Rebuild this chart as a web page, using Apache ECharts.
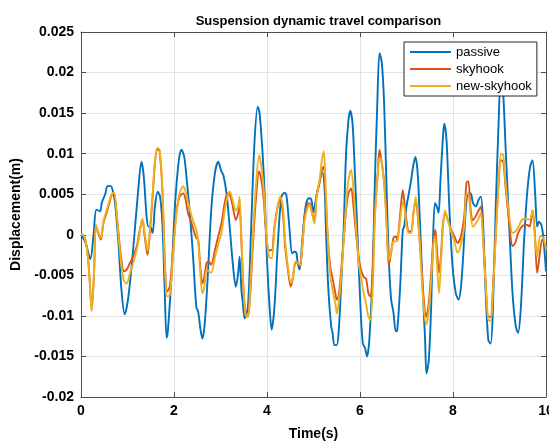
<!DOCTYPE html>
<html>
<head>
<meta charset="utf-8">
<script src="https://cdn.jsdelivr.net/npm/echarts@6/dist/echarts.min.js"></script>
<style>
html,body{margin:0;padding:0;background:#fff;}
#chart{width:549px;height:443px;}
</style>
</head>
<body>
<div id="chart"></div>
<script>
const xTicks = [0, 2, 4, 6, 8, 10];
const yTicks = [-0.02, -0.015, -0.01, -0.005, 0, 0.005, 0.01, 0.015, 0.02, 0.025];
const seriesNames = ['passive', 'skyhook', 'new-skyhook'];

const tPassive = [0,0.1,0.2,0.27,0.33,0.41,0.45,0.52,0.57,0.64,0.68,0.73,0.8,0.87,0.94,1.02,1.12,1.23,1.3,1.35,1.41,1.45,1.49,1.54,1.59,1.65,1.7,1.75,1.8,1.84,1.87,1.95,2.02,2.1,2.16,2.22,2.27,2.34,2.41,2.48,2.52,2.57,2.61,2.66,2.73,2.8,2.88,2.95,3.02,3.06,3.13,3.2,3.27,3.33,3.38,3.41,3.45,3.48,3.52,3.59,3.66,3.73,3.8,3.84,3.9,3.95,4,4.06,4.1,4.16,4.23,4.31,4.38,4.42,4.48,4.54,4.58,4.63,4.66,4.7,4.76,4.83,4.9,4.95,5,5.06,5.11,5.16,5.19,5.24,5.27,5.32,5.38,5.41,5.45,5.5,5.54,5.59,5.65,5.7,5.75,5.79,5.84,5.89,5.95,6.01,6.06,6.11,6.15,6.2,6.27,6.32,6.37,6.42,6.47,6.52,6.57,6.62,6.67,6.72,6.77,6.8,6.86,6.92,6.95,7,7.05,7.1,7.13,7.19,7.24,7.29,7.35,7.4,7.43,7.48,7.53,7.56,7.61,7.65,7.69,7.73,7.78,7.81,7.86,7.92,7.99,8.06,8.12,8.17,8.22,8.28,8.33,8.38,8.43,8.49,8.55,8.6,8.65,8.7,8.76,8.81,8.86,8.92,8.98,9.03,9.08,9.13,9.21,9.28,9.35,9.4,9.46,9.53,9.6,9.66,9.71,9.77,9.81,9.85,9.9,9.94,10];
const passive = [0,-0.001,-0.003,0,0.0031,0.0029,0.004,0.005,0.006,0.006,0.0055,0.004,-0.0006,-0.0068,-0.0098,-0.0076,-0.0019,0.0055,0.009,0.0072,0.0023,0.001,0.001,0.0002,0.0035,0.0053,0.0047,0.0014,-0.0068,-0.0127,-0.0117,-0.0047,0.0035,0.009,0.0105,0.0096,0.007,0.0027,-0.0027,-0.0089,-0.0095,-0.0117,-0.0128,-0.011,-0.0047,0.003,0.0076,0.009,0.0078,0.0074,0.0051,0.0008,-0.0039,-0.0064,-0.0047,-0.0027,-0.0068,-0.0084,-0.0103,-0.0089,0.001,0.0113,0.0158,0.015,0.0105,0.005,-0.0031,-0.0093,-0.0117,-0.0089,-0.0014,0.0047,0.0052,0.0048,0.001,-0.0023,-0.0021,-0.0022,-0.0035,-0.0043,-0.0006,0.0035,0.0045,0.0044,0.0028,0.0047,0.0059,0.0074,0.0076,0.0055,0.0002,-0.0068,-0.0113,-0.0121,-0.0136,-0.0136,-0.012,-0.0068,0.001,0.01,0.014,0.0153,0.0137,0.0076,-0.0006,-0.0089,-0.0134,-0.014,-0.015,-0.013,-0.0047,0.0067,0.0158,0.0224,0.0212,0.016,0.006,-0.003,-0.008,-0.0096,-0.0119,-0.0118,-0.0068,0.0006,0.001,0.0035,0.0051,0.0067,0.008,0.0096,0.0076,0.0014,-0.0068,-0.013,-0.0171,-0.0154,-0.0089,-0.0027,0.0039,0.0035,0.0027,0.0067,0.0117,0.0137,0.0117,0.0035,-0.0039,-0.0072,-0.008,-0.0065,-0.0025,0.0035,0.0051,0.0051,0.0039,0.0035,0.0043,0.0047,0.001,-0.0068,-0.013,-0.0134,-0.0089,0.0035,0.0137,0.0199,0.0174,0.0109,0.001,-0.0072,-0.0113,-0.0121,-0.0089,-0.0006,0.0055,0.0084,0.0092,0.0047,0.001,0.0016,0.0012,-0.0002,-0.0045];

const tControl = [0,0.04,0.12,0.18,0.23,0.28,0.32,0.37,0.43,0.48,0.55,0.61,0.66,0.71,0.77,0.82,0.87,0.92,0.98,1.05,1.12,1.2,1.25,1.32,1.37,1.43,1.48,1.54,1.59,1.64,1.69,1.75,1.8,1.85,1.91,1.98,2.05,2.12,2.2,2.25,2.3,2.38,2.43,2.48,2.52,2.56,2.61,2.65,2.7,2.75,2.8,2.88,2.95,3.02,3.09,3.15,3.2,3.25,3.33,3.38,3.41,3.45,3.5,3.54,3.59,3.64,3.7,3.76,3.83,3.88,3.93,3.98,4.04,4.1,4.16,4.23,4.28,4.34,4.39,4.45,4.51,4.56,4.61,4.66,4.71,4.76,4.81,4.87,4.91,4.96,5.02,5.07,5.13,5.18,5.22,5.26,5.31,5.36,5.41,5.47,5.5,5.54,5.59,5.65,5.7,5.75,5.81,5.86,5.92,5.97,6.02,6.08,6.13,6.18,6.22,6.27,6.32,6.38,6.42,6.46,6.52,6.57,6.62,6.67,6.72,6.77,6.8,6.86,6.92,6.95,7,7.05,7.1,7.15,7.2,7.26,7.31,7.36,7.42,7.47,7.53,7.58,7.62,7.65,7.7,7.74,7.78,7.83,7.89,7.96,8.03,8.1,8.17,8.24,8.29,8.33,8.38,8.43,8.49,8.55,8.6,8.65,8.7,8.76,8.81,8.86,8.92,8.98,9.03,9.08,9.13,9.21,9.28,9.34,9.4,9.48,9.55,9.6,9.65,9.71,9.76,9.81,9.87,9.92,10];
const skyhook = [0,0,-0.0014,-0.005,-0.0093,-0.0047,0.0012,0.0002,-0.0006,0.0014,0.0027,0.0039,0.0049,0.0051,0.0023,-0.0006,-0.0031,-0.0045,-0.0043,-0.0035,-0.0027,-0.0014,0.0002,0.0018,-0.0002,-0.0025,0.0002,0.0047,0.0088,0.0105,0.0103,0.0055,-0.0027,-0.007,-0.0064,-0.0019,0.0027,0.0047,0.0051,0.0043,0.0027,0.0014,0.0004,-0.0004,-0.0006,-0.0035,-0.006,-0.0052,-0.0035,-0.0033,-0.0037,-0.0019,-0.0002,0.0014,0.0039,0.0051,0.0049,0.0039,0.0018,0.0027,0.0035,-0.001,-0.0072,-0.0097,-0.0101,-0.0072,-0.001,0.0043,0.0078,0.0067,0.0043,0.0002,-0.0019,-0.0019,0.001,0.0035,0.0043,0.0027,-0.0014,-0.0043,-0.0064,-0.0052,-0.0035,-0.0035,-0.0039,-0.0014,0.0023,0.0037,0.0039,0.003,0.0016,0.0051,0.0064,0.008,0.0084,0.0047,-0.0006,-0.0039,-0.0054,-0.0072,-0.008,-0.0076,-0.0047,-0.0006,0.003,0.0051,0.0057,0.0035,-0.0002,-0.0027,-0.0043,-0.0052,-0.0054,-0.0072,-0.0076,-0.0047,0.0027,0.0076,0.0105,0.0092,0.0065,0.002,-0.0038,-0.0022,-0.0004,-0.0002,-0.0006,0.0023,0.0055,0.0043,0.0018,0.0004,0.0004,0.0027,0.0043,0.001,-0.0027,-0.0072,-0.0101,-0.0089,-0.0047,-0.0006,0.0006,-0.0014,-0.0047,-0.0027,0.001,0.0027,0.0018,0.0006,-0.0002,-0.001,-0.0002,0.0022,0.0064,0.0066,0.003,0.0018,0.0023,0.003,0.0035,-0.0006,-0.0056,-0.0101,-0.0101,-0.0064,0.0002,0.0064,0.0092,0.009,0.0059,0.0014,-0.0014,-0.001,0.0002,0.001,0.0012,0.0012,0.001,0.003,0.0002,-0.0047,-0.0022,-0.0006,-0.0014];
const newSkyhook = [0,0,-0.0014,-0.005,-0.0094,-0.0047,0.0012,0.0004,-0.0004,0.0016,0.003,0.0042,0.005,0.0052,0.0025,-0.001,-0.0038,-0.0056,-0.006,-0.0048,-0.0035,-0.0018,-0.0002,0.002,0.0002,-0.002,0.0006,0.005,0.009,0.0107,0.0105,0.0058,-0.0031,-0.0076,-0.0074,-0.0025,0.0025,0.0051,0.006,0.0053,0.004,0.0023,0.0014,0.0006,-0.0008,-0.0043,-0.0072,-0.0066,-0.0043,-0.0045,-0.0047,-0.0028,-0.0012,0.0002,0.003,0.0047,0.0053,0.0045,0.003,0.0035,0.0047,-0.0005,-0.007,-0.0099,-0.0101,-0.0065,0.0002,0.0059,0.0098,0.0084,0.0055,0.0006,-0.0027,-0.0029,0.0006,0.0035,0.0047,0.0035,-0.0008,-0.0039,-0.0059,-0.0052,-0.0033,-0.0035,-0.0037,-0.0012,0.0018,0.0033,0.0037,0.0029,0.0014,0.0049,0.0068,0.0092,0.0103,0.0062,-0.0006,-0.0049,-0.0068,-0.0085,-0.0097,-0.0085,-0.0056,-0.0006,0.0037,0.0067,0.008,0.0055,0.0004,-0.0033,-0.0052,-0.0072,-0.0085,-0.0101,-0.0105,-0.0072,0.0019,0.0072,0.0095,0.0092,0.0062,0.0015,-0.0031,-0.0022,-0.0008,-0.0008,-0.0008,0.0016,0.004,0.0035,0.0012,0.0002,0.0002,0.0027,0.0047,0.0012,-0.0035,-0.0082,-0.0111,-0.0098,-0.0056,-0.0012,-0.0002,-0.003,-0.0072,-0.0035,0.0005,0.003,0.0018,0.0004,-0.0008,-0.0022,-0.0012,0.001,0.0051,0.0051,0.0023,0.001,0.0014,0.002,0.0027,-0.0008,-0.006,-0.0105,-0.0106,-0.007,-0.0002,0.0062,0.01,0.0098,0.0064,0.0023,0.0002,0.0004,0.0009,0.0018,0.002,0.0019,0.0019,0.003,-0.0003,-0.0027,-0.0002,-0.0002,-0.0018];

function pairs(ts, vs) { return ts.map((t, i) => [t, vs[i]]); }

const colors = ['#0072BD', '#D95319', '#EDB120'];
const fontFam = '"Liberation Sans", Arial, sans-serif';
const axisColor = '#4d4d4d';

const chart = echarts.init(document.getElementById('chart'), null, { renderer: 'canvas' });
const baseX = { type: 'value', min: xTicks[0], max: xTicks[xTicks.length - 1], interval: 2 };
const baseY = { type: 'value', min: yTicks[0], max: yTicks[yTicks.length - 1], interval: 0.005 };

chart.setOption({
  animation: false,
  backgroundColor: '#ffffff',
  color: colors,
  title: {
    text: 'Suspension dynamic travel comparison',
    left: 313.5, top: 10, textAlign: 'center',
    textStyle: { fontFamily: fontFam, fontSize: 13, fontWeight: 'bold', color: '#000' }
  },
  legend: {
    orient: 'vertical', left: 404, top: 42,
    padding: [2, 5, 2, 6], itemGap: 1, itemWidth: 41, itemHeight: 2, icon: 'rect',
    backgroundColor: '#fff', borderColor: '#262626', borderWidth: 1,
    textStyle: { fontFamily: fontFam, fontSize: 13, color: '#000', lineHeight: 16 },
    data: seriesNames
  },
  grid: { left: 81, right: 3, top: 32, bottom: 46, containLabel: false, outerBoundsMode: 'none' },
  xAxis: [
    Object.assign({}, baseX, {
      position: 'bottom',
      name: 'Time(s)', nameLocation: 'middle', nameGap: 30,
      nameTextStyle: { fontFamily: fontFam, fontSize: 14, fontWeight: 'bold', color: '#000' },
      axisLine: { show: true, onZero: false, lineStyle: { color: axisColor, width: 1 } },
      axisTick: { show: true, inside: true, length: 5, lineStyle: { color: axisColor } },
      axisLabel: { fontFamily: fontFam, fontSize: 14, fontWeight: 'bold', color: '#000', margin: 7 },
      splitLine: { show: true, lineStyle: { color: '#e3e3e3', width: 1 } }
    }),
    Object.assign({}, baseX, {
      position: 'top',
      axisLine: { show: true, onZero: false, lineStyle: { color: axisColor, width: 1 } },
      axisTick: { show: true, inside: true, length: 5, lineStyle: { color: axisColor } },
      axisLabel: { show: false }, splitLine: { show: false }
    })
  ],
  yAxis: [
    Object.assign({}, baseY, {
      position: 'left',
      name: 'Displacement(m)', nameLocation: 'middle', nameGap: 51,
      nameTextStyle: { fontFamily: fontFam, fontSize: 14, fontWeight: 'bold', color: '#000' },
      axisLine: { show: true, onZero: false, lineStyle: { color: axisColor, width: 1 } },
      axisTick: { show: true, inside: true, length: 5, lineStyle: { color: axisColor } },
      axisLabel: { fontFamily: fontFam, fontSize: 14, fontWeight: 'bold', color: '#000', margin: 7,
        formatter: v => String(parseFloat(v.toFixed(4))) },
      splitLine: { show: true, lineStyle: { color: '#e3e3e3', width: 1 } }
    }),
    Object.assign({}, baseY, {
      position: 'right',
      axisLine: { show: true, onZero: false, lineStyle: { color: axisColor, width: 1 } },
      axisTick: { show: true, inside: true, length: 5, lineStyle: { color: axisColor } },
      axisLabel: { show: false }, splitLine: { show: false }
    })
  ],
  series: [
    { name: seriesNames[0], type: 'line', data: pairs(tPassive, passive), symbol: 'none', smooth: 0.3,
      lineStyle: { width: 1.9, color: colors[0] }, itemStyle: { color: colors[0] }, xAxisIndex: 0, yAxisIndex: 0 },
    { name: seriesNames[1], type: 'line', data: pairs(tControl, skyhook), symbol: 'none', smooth: 0.3,
      lineStyle: { width: 1.9, color: colors[1] }, itemStyle: { color: colors[1] }, xAxisIndex: 0, yAxisIndex: 0 },
    { name: seriesNames[2], type: 'line', data: pairs(tControl, newSkyhook), symbol: 'none', smooth: 0.3,
      lineStyle: { width: 1.9, color: colors[2] }, itemStyle: { color: colors[2] }, xAxisIndex: 0, yAxisIndex: 0 }
  ]
});
</script>
</body>
</html>
